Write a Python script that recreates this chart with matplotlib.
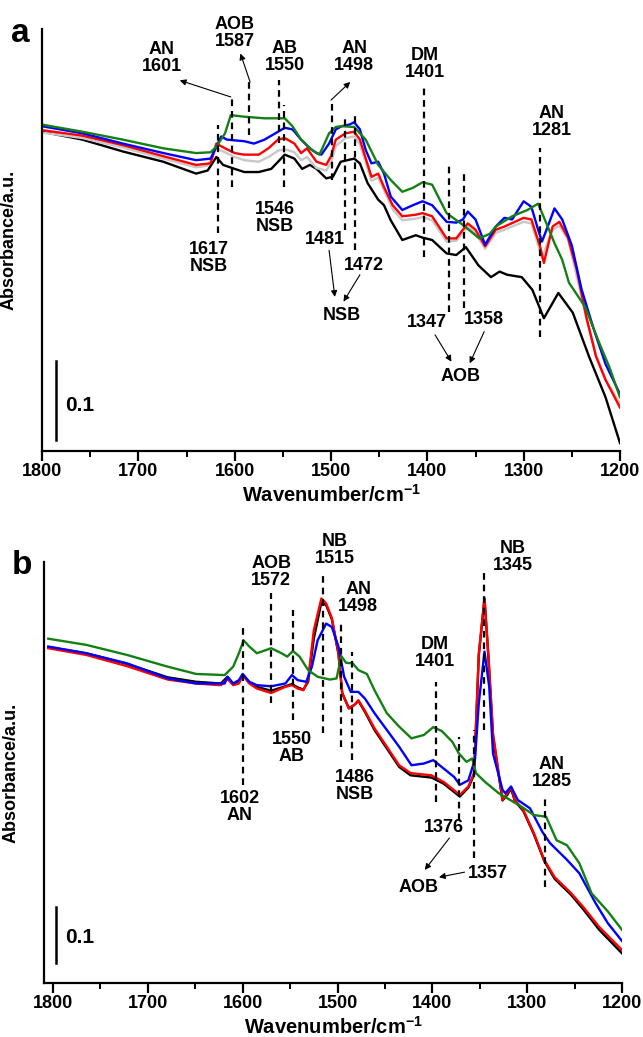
import matplotlib.pyplot as plt
from matplotlib.ticker import MultipleLocator

plt.rcParams['font.family'] = ['Liberation Sans', 'DejaVu Sans']
plt.rcParams['font.weight'] = 'bold'
plt.rcParams['mathtext.fontset'] = 'custom'
plt.rcParams['mathtext.rm'] = 'Liberation Sans:bold'
plt.rcParams['mathtext.bf'] = 'Liberation Sans:bold'

# ---------------- panel a data (wavenumber, absorbance) ----------------
a_black_x = [1800, 1758, 1716, 1674, 1640, 1628, 1619, 1612, 1600, 1590, 1575, 1562, 1548, 1538,
             1530, 1522, 1515, 1505, 1498, 1490, 1476, 1470, 1462, 1451, 1445, 1438, 1426, 1412,
             1405, 1395, 1380, 1370, 1360, 1347, 1334, 1325, 1317, 1302, 1291, 1279, 1264, 1249,
             1232, 1215, 1200]
a_black_y = [.404, .394, .379, .366, .351, .355, .372, .362, .357, .353, .353, .357, .375, .370,
             .357, .362, .357, .345, .347, .366, .370, .364, .339, .318, .311, .292, .267, .273,
             .270, .267, .250, .248, .258, .235, .220, .227, .223, .220, .204, .168, .200, .175,
             .119, .068, .010]

a_gray_x = [1800, 1758, 1716, 1674, 1640, 1628, 1619, 1610, 1600, 1590, 1575, 1565, 1555, 1548,
            1538, 1531, 1525, 1515, 1505, 1500, 1495, 1485, 1476, 1470, 1458, 1451, 1445, 1436,
            1426, 1412, 1405, 1395, 1380, 1370, 1358, 1350, 1340, 1329, 1320, 1300, 1292, 1281,
            1270, 1263, 1254, 1245, 1235, 1225, 1215, 1200]
a_gray_y = [.403, .396, .384, .370, .359, .361, .383, .378, .372, .368, .366, .372, .380, .382,
            .378, .368, .372, .358, .355, .365, .386, .396, .398, .388, .342, .346, .330, .306,
            .292, .294, .296, .292, .265, .266, .284, .276, .256, .276, .280, .290, .288, .245,
            .280, .285, .268, .222, .168, .122, .090, .060]

a_red_x = [1800, 1758, 1716, 1674, 1640, 1625, 1619, 1610, 1600, 1590, 1575, 1565, 1555, 1548,
           1538, 1531, 1525, 1515, 1505, 1500, 1495, 1485, 1476, 1470, 1458, 1451, 1445, 1436,
           1426, 1412, 1405, 1395, 1380, 1370, 1358, 1350, 1340, 1329, 1320, 1300, 1292, 1283,
           1279, 1270, 1263, 1254, 1245, 1235, 1225, 1215, 1200]
a_red_y = [.406, .399, .387, .373, .362, .364, .389, .383, .377, .375, .375, .383, .394, .396,
           .389, .377, .383, .366, .362, .373, .394, .402, .404, .394, .347, .351, .334, .311,
           .297, .299, .301, .297, .269, .269, .288, .280, .259, .280, .284, .295, .293, .259,
           .238, .284, .290, .270, .230, .170, .120, .090, .055]

a_blue_x = [1800, 1758, 1716, 1674, 1640, 1625, 1619, 1614, 1608, 1590, 1580, 1569, 1555, 1548,
            1540, 1531, 1522, 1515, 1510, 1502, 1495, 1489, 1481, 1476, 1470, 1464, 1458, 1451,
            1445, 1438, 1426, 1415, 1405, 1395, 1380, 1370, 1363, 1358, 1350, 1340, 1329, 1320,
            1312, 1300, 1292, 1285, 1281, 1275, 1268, 1260, 1250, 1240, 1228, 1215, 1200]
a_blue_y = [.411, .402, .389, .377, .368, .370, .385, .398, .394, .392, .389, .394, .404, .409,
            .407, .394, .383, .377, .375, .389, .407, .411, .413, .416, .407, .381, .364, .366,
            .351, .322, .305, .311, .316, .311, .290, .289, .293, .303, .293, .261, .284, .295,
            .293, .316, .309, .280, .265, .284, .307, .293, .260, .205, .157, .110, .072]

a_green_x = [1800, 1758, 1716, 1674, 1640, 1625, 1619, 1610, 1604, 1590, 1569, 1548, 1540, 1531,
             1520, 1512, 1502, 1495, 1489, 1476, 1464, 1451, 1438, 1426, 1415, 1405, 1395, 1380,
             1363, 1346, 1335, 1329, 1312, 1296, 1285, 1275, 1268, 1260, 1253, 1236, 1223, 1211,
             1200]
a_green_y = [.413, .404, .394, .383, .377, .378, .385, .402, .425, .423, .421, .421, .411, .394,
             .381, .375, .402, .410, .411, .410, .394, .362, .343, .328, .333, .340, .337, .301,
             .286, .269, .275, .284, .297, .305, .313, .284, .263, .242, .213, .182, .141, .106,
             .068]

# ---------------- panel b data ----------------
b_black_x = [1805, 1765, 1722, 1679, 1649, 1623, 1616, 1610, 1604, 1600, 1593, 1585, 1570, 1555,
             1548, 1542, 1536, 1531, 1525, 1517, 1512, 1506, 1499, 1495, 1488, 1482, 1478, 1471,
             1461, 1448, 1435, 1423, 1401, 1388, 1371, 1362, 1356, 1351, 1345, 1341, 1336, 1326,
             1321, 1317, 1313, 1304, 1293, 1282, 1271, 1254, 1241, 1224, 1200]
b_black_y = [.600, .589, .570, .546, .538, .535, .547, .534, .537, .551, .537, .529, .522, .530,
             .534, .528, .524, .538, .615, .680, .675, .650, .588, .518, .491, .497, .504, .484,
             .452, .419, .386, .371, .367, .356, .333, .349, .372, .585, .687, .585, .440, .326,
             .336, .347, .325, .307, .266, .218, .186, .158, .132, .095, .053]

b_red_x = [1805, 1765, 1722, 1679, 1649, 1623, 1616, 1610, 1604, 1600, 1593, 1585, 1570, 1555,
           1548, 1542, 1536, 1531, 1525, 1517, 1512, 1506, 1499, 1495, 1488, 1482, 1478, 1471,
           1461, 1448, 1435, 1423, 1401, 1388, 1371, 1362, 1356, 1351, 1345, 1341, 1336, 1326,
           1321, 1317, 1313, 1304, 1293, 1282, 1271, 1254, 1241, 1224, 1200]
b_red_y = [.598, .586, .566, .542, .535, .532, .543, .532, .535, .550, .535, .526, .518, .529,
           .532, .526, .523, .541, .630, .687, .678, .652, .589, .517, .490, .497, .505, .486,
           .455, .422, .389, .375, .371, .359, .336, .351, .375, .589, .687, .589, .446, .327,
           .339, .350, .327, .309, .268, .220, .189, .161, .136, .100, .059]

b_blue_x = [1805, 1765, 1722, 1679, 1649, 1619, 1616, 1610, 1604, 1600, 1593, 1585, 1570, 1555,
            1548, 1542, 1533, 1527, 1521, 1512, 1506, 1499, 1493, 1486, 1478, 1471, 1461, 1448,
            1435, 1422, 1409, 1399, 1388, 1377, 1371, 1362, 1355, 1351, 1345, 1340, 1336, 1326,
            1323, 1317, 1310, 1297, 1284, 1276, 1258, 1245, 1228, 1215, 1200]
b_blue_y = [.601, .589, .571, .544, .535, .535, .547, .535, .541, .552, .538, .532, .530, .535,
            .550, .541, .538, .565, .612, .642, .636, .601, .547, .520, .520, .508, .482, .452,
            .422, .389, .392, .398, .383, .368, .354, .362, .400, .500, .592, .529, .410, .345,
            .339, .351, .327, .312, .270, .250, .220, .196, .143, .107, .075]

b_green_x = [1805, 1765, 1722, 1679, 1649, 1619, 1610, 1604, 1599, 1593, 1585, 1570, 1559, 1553,
             1547, 1540, 1531, 1521, 1508, 1501, 1496, 1491, 1484, 1478, 1469, 1461, 1448, 1435,
             1422, 1409, 1399, 1390, 1379, 1372, 1364, 1358, 1354, 1345, 1330, 1306, 1293, 1280,
             1269, 1258, 1245, 1232, 1215, 1200]
b_green_y = [.615, .604, .586, .565, .552, .550, .565, .589, .612, .601, .589, .598, .589, .583,
             .593, .583, .559, .547, .542, .544, .584, .572, .571, .559, .552, .523, .482, .458,
             .437, .443, .457, .450, .431, .410, .395, .401, .375, .360, .339, .315, .300, .297,
             .255, .246, .214, .160, .128, .095]

# ---------------- annotations ----------------
# (text, wavenumber, absorbance)
a_labels = [('AN\n1601', 1676, .497), ('AOB\n1587', 1600, .529), ('AB\n1550', 1548, .499),
            ('1546\nNSB', 1558, .295), ('AN\n1498', 1476, .499), ('DM\n1401', 1403, .490),
            ('AN\n1281', 1271, .416), ('1617\nNSB', 1627, .244), ('1481', 1506, .267),
            ('1472', 1466, .235), ('NSB', 1489, .172), ('1347', 1400, .163),
            ('1358', 1341, .166), ('AOB', 1366, .094)]
# (wavenumber, top, bottom)
a_dashes = [(1617, .413, .276), (1603, .448, .334), (1585, .467, .400), (1554, .470, .390),
            (1549, .438, .334), (1499, .444, .343), (1485, .422, .280), (1475, .428, .254),
            (1403, .459, .246), (1377, .362, .176), (1362, .356, .181), (1283, .384, .144)]
# (tail, head)
a_arrows = [((1604, .448), (1657, .469)), ((1584, .467), (1594, .503)),
            ((1500, .444), (1480, .467)), ((1502, .254), (1496, .195)),
            ((1470, .223), (1487, .189)), ((1392, .147), (1375, .113)),
            ((1341, .151), (1356, .111))]

b_labels = [('AOB\n1572', 1570, .734), ('NB\n1515', 1503, .773), ('AN\n1498', 1478, .6875),
            ('1550\nAB', 1548, .420), ('1602\nAN', 1603, .314), ('1486\nNSB', 1482, .352),
            ('DM\n1401', 1397, .589), ('NB\n1345', 1315, .761), ('AN\n1285', 1274, .375),
            ('1376', 1388, .277), ('1357', 1341, .196), ('AOB', 1415, .171)]
b_dashes = [(1600, .636, .354), (1570, .696, .500), (1547, .666, .470), (1515, .729, .446),
            (1496, .648, .421), (1485, .591, .398), (1396, .5375, .323), (1372, .439, .291),
            (1356, .452, .223), (1345, .734, .452), (1281, .332, .171)]
b_arrows = [((1382, .259), (1408, .202)), ((1366, .198), (1393, .189))]

fig = plt.figure(figsize=(6.43, 10.37), dpi=100)
ax_a = fig.add_axes([42 / 643, 1 - 451 / 1037, 578 / 643, 422 / 1037])
ax_b = fig.add_axes([44 / 643, 1 - 983 / 1037, 578 / 643, 421 / 1037])


def style(ax, xlim, ylim, bar_x, bar_y, txt_x, txt_y):
    ax.set_xlim(*xlim)
    ax.set_ylim(*ylim)
    for s in ['top', 'right']:
        ax.spines[s].set_visible(False)
    for s in ['left', 'bottom']:
        ax.spines[s].set_linewidth(1.6)
    ax.set_yticks([])
    ax.xaxis.set_major_locator(MultipleLocator(100))
    ax.xaxis.set_minor_locator(MultipleLocator(50))
    ax.tick_params(axis='x', which='major', direction='out', length=7, width=1.6,
                   labelsize=13, pad=2)
    ax.tick_params(axis='x', which='minor', direction='out', length=4, width=1.4)
    for t in ax.get_xticklabels():
        t.set_fontweight('bold')
    ax.set_xlabel(r'Wavenumber/cm$^{-1}$', fontsize=14.5, fontweight='bold')
    ax.xaxis.set_label_coords(0.5, -0.077)
    ax.set_ylabel('Absorbance/a.u.', fontsize=13, fontweight='bold')
    ax.yaxis.set_label_coords(-0.042, 0.5)
    # 0.1 scale bar
    ax.plot([bar_x, bar_x], [bar_y, bar_y + 0.1], color='k', lw=1.8)
    ax.text(txt_x, txt_y, '0.1', fontsize=15, fontweight='bold', va='center', ha='left')


def annotate(ax, labels, dashes, arrows):
    for txt, x, y in labels:
        ax.text(x, y, txt, ha='center', va='center', fontsize=13, fontweight='bold',
                linespacing=1.0)
    for x, top, bot in dashes:
        ax.plot([x, x], [bot, top], color='k', lw=1.6, ls=(0, (3, 2.2)))
    for tail, head in arrows:
        ax.annotate('', xy=head, xytext=tail,
                    arrowprops=dict(arrowstyle='-|>', color='k', lw=0.8, mutation_scale=9,
                                    shrinkA=0, shrinkB=0))


lw = 1.7
ax_a.plot(a_black_x, a_black_y, color='black', lw=lw)
ax_a.plot(a_gray_x, a_gray_y, color='#c8c8c8', lw=lw)
ax_a.plot(a_red_x, a_red_y, color='red', lw=lw)
ax_a.plot(a_blue_x, a_blue_y, color='blue', lw=lw)
ax_a.plot(a_green_x, a_green_y, color='#148014', lw=lw)
style(ax_a, (1800, 1200), (0, 0.534), 1785.4, 0.014, 1776, 0.058)
annotate(ax_a, a_labels, a_dashes, a_arrows)

ax_b.plot(b_black_x, b_black_y, color='black', lw=lw)
ax_b.plot(b_red_x, b_red_y, color='red', lw=lw)
ax_b.plot(b_blue_x, b_blue_y, color='blue', lw=lw)
ax_b.plot(b_green_x, b_green_y, color='#148014', lw=lw)
style(ax_b, (1809.5, 1200), (0, 0.752), 1796.8, 0.036, 1787, 0.082)
annotate(ax_b, b_labels, b_dashes, b_arrows)

fig.text(20 / 643, 1 - 33 / 1037, 'a', fontsize=24, fontweight='bold', ha='center', va='center')
fig.text(22 / 643, 1 - 565 / 1037, 'b', fontsize=24, fontweight='bold', ha='center', va='center')

fig.savefig('out.png', dpi=100)
